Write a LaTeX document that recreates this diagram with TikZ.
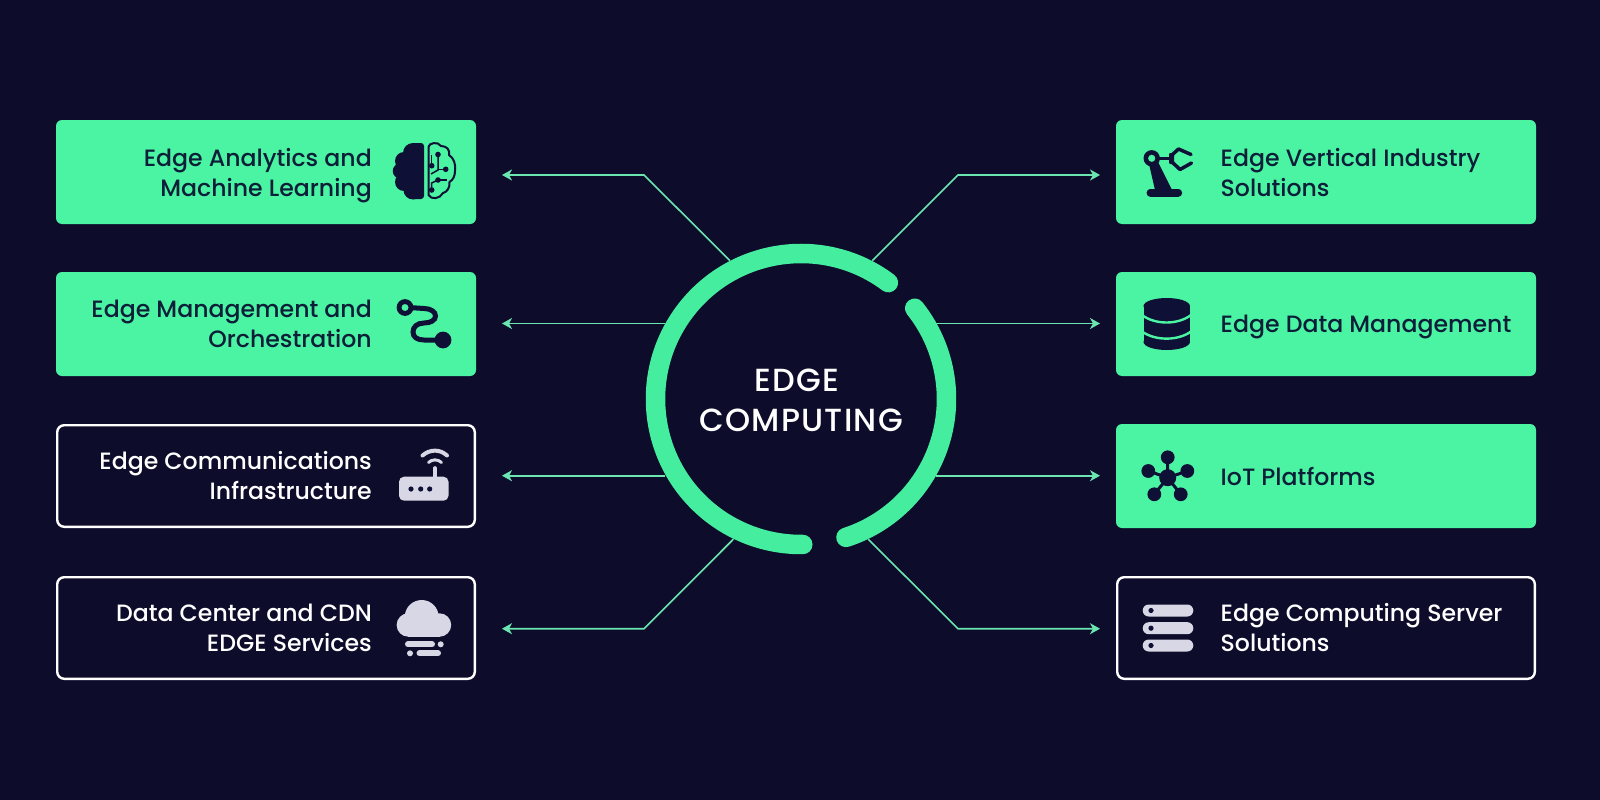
\documentclass[tikz,border=0pt]{standalone}
\usepackage{fontspec}
\setmainfont{Poppins Medium}
\usetikzlibrary{arrows.meta}
\definecolor{bgc}{HTML}{0D0C2B}
\definecolor{grn}{HTML}{4BF4A3}
\definecolor{ringc}{HTML}{45EE9F}
\definecolor{linkc}{HTML}{6BE6B0}
\definecolor{ink}{HTML}{0C1E38}
\definecolor{icondark}{HTML}{0E1036}
\definecolor{iconlight}{HTML}{D8D7E5}
\tikzset{
  greenbox/.style={fill=grn,draw=none,rounded corners=6pt,minimum width=420pt,minimum height=104pt,inner sep=0pt,outer sep=0pt},
  darkbox/.style={fill=bgc,draw=white,line width=2.4pt,rounded corners=7pt,minimum width=417.6pt,minimum height=101.6pt,inner sep=0pt,outer sep=0pt},
  lefttext/.style={anchor=east,align=right,inner sep=0pt,font=\fontsize{23.6}{30}\selectfont},
  righttext/.style={anchor=west,align=left,inner sep=0pt,font=\fontsize{23.6}{30}\selectfont},
  link/.style={draw=linkc,line width=1.6pt,-{Stealth[length=10pt,width=11pt,inset=3pt]}},
  ringarc/.style={draw=ringc,line width=19.5pt,line cap=round},
  titletext/.style={align=center,inner sep=0pt,text=white,font=\fontsize{32}{40}\selectfont\addfontfeatures{LetterSpace=4}},
}
\begin{document}
\begin{tikzpicture}[x=1pt,y=1pt,yscale=-1]
\fill[bgc] (0,0) rectangle (1600,800);
\useasboundingbox (0,0) rectangle (1600,800);
% boxes
\node[greenbox] (b1) at (266,172) {};
\node[greenbox] (b2) at (266,324) {};
\node[darkbox] (b3) at (266,476) {};
\node[darkbox] (b4) at (266,628) {};
\node[greenbox] (b5) at (1326,172) {};
\node[greenbox] (b6) at (1326,324) {};
\node[greenbox] (b7) at (1326,476) {};
\node[darkbox] (b8) at (1326,628) {};
% text
\node[lefttext,text=ink] (t1) at (372,175) {\strut Edge Analytics and\\\strut Machine Learning};
\node[lefttext,text=ink] (t2) at (372,326.5) {\strut Edge Management and\\\strut Orchestration};
\node[lefttext,text=white] (t3) at (372,478.5) {\strut Edge Communications\\\strut Infrastructure};
\node[lefttext,text=white] (t4) at (372,630.7) {\strut Data Center and CDN\\\strut EDGE Services};
\node[righttext,text=ink] (t5) at (1220.5,175) {\strut Edge Vertical Industry\\\strut Solutions};
\node[righttext,text=ink] (t6) at (1220.5,326.7) {\strut Edge Data Management};
\node[righttext,text=ink] (t7) at (1220.5,479) {\strut IoT Platforms};
\node[righttext,text=white] (t8) at (1220.5,630.7) {\strut Edge Computing Server\\\strut Solutions};
% connector ends
\coordinate (c) at (801,399);
\coordinate (a1) at (730,260.7); \coordinate (e1) at (644,175); \coordinate (p1) at (502,175);
\coordinate (a2) at (665,323.5); \coordinate (p2) at (502,323.5);
\coordinate (a3) at (665,475.7); \coordinate (p3) at (502,475.7);
\coordinate (a4) at (733.3,539.3); \coordinate (e4) at (644,628.7); \coordinate (p4) at (502,628.7);
\coordinate (a5) at (872.3,260.7); \coordinate (e5) at (958,175); \coordinate (p5) at (1100,175);
\coordinate (a6) at (936,323.5); \coordinate (p6) at (1100,323.5);
\coordinate (a7) at (936,475.7); \coordinate (p7) at (1100,475.7);
\coordinate (a8) at (868.3,539.3); \coordinate (e8) at (958,628.7); \coordinate (p8) at (1100,628.7);
\draw[link] (a1) -- (e1) -- (p1);
\draw[link] (a2) -- (p2);
\draw[link] (a3) -- (p3);
\draw[link] (a4) -- (e4) -- (p4);
\draw[link] (a5) -- (e5) -- (p5);
\draw[link] (a6) -- (p6);
\draw[link] (a7) -- (p7);
\draw[link] (a8) -- (e8) -- (p8);
% ring
\draw[ringarc] (c) ++(-53.1:145.5) arc[start angle=-53.1,end angle=-270.7,radius=145.5];
\draw[ringarc] (c) ++(-38.6:145.5) arc[start angle=-38.6,end angle=72,radius=145.5];
\node[titletext] (title) at (801,403.5) {\strut EDGE\hspace*{9pt}\\\strut COMPUTING};
% brain
\begin{scope}[icondark]
\fill (413,153) circle (10);
\fill (404,161) circle (9);
\fill (400.2,171) circle (7.5);
\fill (404,182) circle (9);
\fill (413,190) circle (9.5);
\fill (405,150) rectangle (424,195);
\fill[rounded corners=3pt] (411,143) rectangle (424,199);
\draw[line width=2pt,line join=round] (428.5,147) .. controls (428.5,143) and (438,141) .. (441,146)
  .. controls (447,146) and (450,150) .. (449,155)
  .. controls (454,158) and (456,165) .. (455,171)
  .. controls (455,176) and (453,180) .. (449.5,182)
  .. controls (450,188) and (447,192) .. (443,193)
  .. controls (440,199) and (431,200) .. (428.5,195) -- cycle;
\fill (438,154.5) circle (2.8);
\fill (431.7,165.7) circle (2.8);
\fill (445.7,169.3) circle (2.8);
\fill (438,180) circle (2.8);
\fill (431.7,190) circle (2.8);
\draw[line width=1.5pt] (431.7,165.7) -- (431.7,155);
\draw[line width=1.5pt] (438,154.5) -- (438,170) -- (431,174);
\draw[line width=1.5pt] (445.7,169.3) -- (438,169.3);
\draw[line width=1.5pt] (438,180) -- (447,180);
\draw[line width=1.5pt] (431.7,190) -- (431.7,183) -- (438,180);
\end{scope}
% route
\begin{scope}[icondark]
\draw[line width=5pt] (409,307.5) -- (424,308.5) .. controls (431,308.5) and (435.5,312) .. (435.5,316) .. controls (435.5,320) and (431,323) .. (424,323) .. controls (417,323) and (413,327) .. (413,332) .. controls (413,337) and (417,340) .. (424,340) -- (443,340);
\fill[even odd rule] (405,307.5) circle (8.4) (405,307.5) circle (3.6);
\fill (443,340) circle (8.4);
\end{scope}
% robot
\begin{scope}[icondark]
\fill[even odd rule] (1151.7,158.3) circle (8.2) (1151.7,158.3) circle (3.7);
\fill (1149,164) -- (1158,162) -- (1172,190) -- (1155,190) -- cycle;
\fill[rounded corners=3.5pt] (1146.7,189) rectangle (1182,196.8);
\draw[line width=2.6pt] (1159,158.3) -- (1172,158.3);
\fill[rounded corners=1pt] (1169,153) rectangle (1174,164);
\draw[line width=3.5pt,line cap=round,line join=round] (1172,155) -- (1178.5,149) -- (1191,154.5);
\draw[line width=3.5pt,line cap=round,line join=round] (1172,162) -- (1180,169.5) -- (1191.5,163);
\end{scope}
% database
\begin{scope}[icondark]
\fill (1166.7,306) ellipse [x radius=23.2,y radius=8];
\fill (1143.5,306) rectangle (1189.9,342);
\fill (1166.7,342) ellipse [x radius=23.2,y radius=8];
\end{scope}
\draw[grn,line width=2.4pt] (1142,315) .. controls (1155,325) and (1178,325) .. (1191,315);
\draw[grn,line width=2.4pt] (1142,331.5) .. controls (1155,341) and (1178,341) .. (1191,331.5);
% iot
\begin{scope}[icondark]
\draw[line width=3pt] (1167.7,477.7) -- (1167.7,457.3) (1167.7,477.7) -- (1148.3,471) (1167.7,477.7) -- (1187.3,471) (1167.7,477.7) -- (1154.3,494.3) (1167.7,477.7) -- (1180.7,494.3);
\fill (1167.7,477.7) circle (8.5);
\fill (1167.7,457.3) circle (6.9);
\fill (1148.3,471) circle (6.9);
\fill (1187.3,471) circle (6.9);
\fill (1154.3,494.3) circle (6.9);
\fill (1180.7,494.3) circle (6.9);
\end{scope}
% server
\foreach \yy in {610.5,628.2,645.5}{
  \fill[iconlight,rounded corners=6pt] (1142.7,\yy-6) rectangle (1193.3,\yy+6);
  \fill[icondark] (1151,\yy) circle (2.6);
}
% router
\fill[iconlight,rounded corners=5pt] (399,476.7) rectangle (448.5,500.7);
\fill[icondark] (411,489) circle (2.6) (420.7,489) circle (2.6) (429.7,489) circle (2.6);
\draw[iconlight,line width=3.6pt,line cap=round] (435,468) -- (435,478);
\draw[iconlight,line width=4pt,line cap=round] (422.5,455.5) .. controls (430,449) and (440,449) .. (447,455.5);
\draw[iconlight,line width=3pt,line cap=round] (428.5,462.5) .. controls (432,459) and (438,459) .. (441.5,462.5);
% cloud
\begin{scope}[iconlight]
\fill (421.7,617) circle (17);
\fill (408.3,625) circle (11.7);
\fill (439.5,625) circle (11.7);
\fill (408.3,625) rectangle (439.5,636.7);
\draw[line width=6pt,line cap=round] (408,644.3) -- (432,644.3);
\fill (440.7,644.3) circle (3);
\fill (410,653.3) circle (3);
\draw[line width=6pt,line cap=round] (419.5,653.3) -- (438,653.3);
\end{scope}
\end{tikzpicture}
\end{document}
